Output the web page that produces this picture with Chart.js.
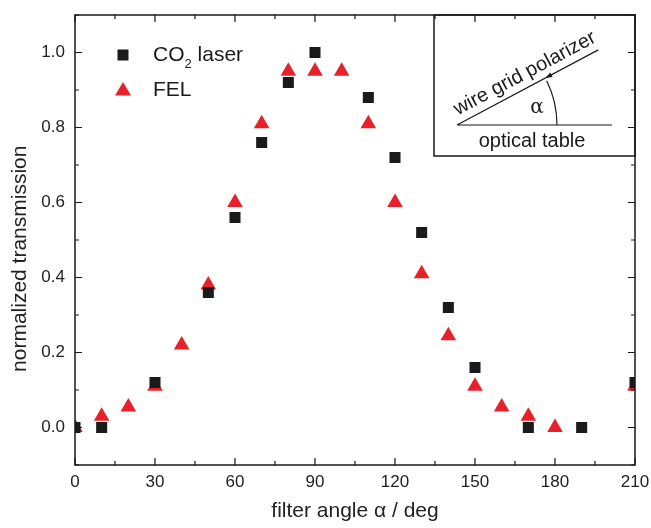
<!DOCTYPE html>
<html>
<head>
<meta charset="utf-8">
<script src="https://cdn.jsdelivr.net/npm/chart.js@4/dist/chart.umd.min.js"></script>
<style>
  html, body { margin: 0; padding: 0; background: #fff; }
  #wrap { width: 651px; height: 528px; }
</style>
</head>
<body>
<div id="wrap"><canvas id="chart" width="651" height="528"></canvas></div>
<script>
// angles (deg) and normalized transmission
const co2Angles = [0, 10, 30, 50, 60, 70, 80, 90, 110, 120, 130, 140, 150, 170, 190, 210];
const co2Values = [0, 0, 0.12, 0.36, 0.56, 0.76, 0.92, 1.0, 0.88, 0.72, 0.52, 0.32, 0.16, 0, 0, 0.12];

const felAngles = [0, 10, 20, 30, 40, 50, 60, 70, 80, 90, 100, 110, 120, 130, 140, 150, 160, 170, 180, 210];
const felValues = [0, 0.03, 0.055, 0.11, 0.22, 0.38, 0.60, 0.81, 0.95, 0.95, 0.95, 0.81, 0.60, 0.41, 0.245, 0.11, 0.055, 0.03, 0, 0.11];

const xTicks = [0, 30, 60, 90, 120, 150, 180, 210];
const yTicks = [0, 0.2, 0.4, 0.6, 0.8, 1.0];
const xMinorTicks = [15, 45, 75, 105, 135, 165, 195];
const yMinorTicks = [-0.1, 0.1, 0.3, 0.5, 0.7, 0.9, 1.1];

const FONT = "'Liberation Sans', Arial, Helvetica, sans-serif";
const RED = '#e8202a';
const BLACK = '#1a1a1a';

const toPoints = (xs, ys) => xs.map((x, i) => ({ x: x, y: ys[i] }));

// frame, inward ticks on all four sides, y title, legend and the inset sketch
const framePlugin = {
    id: 'frame',
    afterDraw(chart) {
        const ctx = chart.ctx;
        const a = chart.chartArea;
        const xs = chart.scales.x, ys = chart.scales.y;
        ctx.save();
        ctx.strokeStyle = BLACK;
        ctx.lineWidth = 1.5;
        ctx.strokeRect(a.left, a.top, a.right - a.left, a.bottom - a.top);

        ctx.lineWidth = 1.2;
        ctx.beginPath();
        const xt = (v, len) => {
            const px = xs.getPixelForValue(v);
            ctx.moveTo(px, a.bottom); ctx.lineTo(px, a.bottom - len);
            ctx.moveTo(px, a.top); ctx.lineTo(px, a.top + len);
        };
        const yt = (v, len) => {
            const py = ys.getPixelForValue(v);
            ctx.moveTo(a.left, py); ctx.lineTo(a.left + len, py);
            ctx.moveTo(a.right, py); ctx.lineTo(a.right - len, py);
        };
        xTicks.forEach(v => xt(v, 7));
        xMinorTicks.forEach(v => xt(v, 4));
        yTicks.forEach(v => yt(v, 7));
        yMinorTicks.forEach(v => yt(v, 4));
        ctx.stroke();

        // y axis title (sits a bit below the centre in the original)
        ctx.save();
        ctx.translate(20, ys.getPixelForValue(0.45));
        ctx.rotate(-Math.PI / 2);
        ctx.fillStyle = '#222';
        ctx.font = '21px ' + FONT;
        ctx.textAlign = 'center';
        ctx.textBaseline = 'middle';
        ctx.fillText('normalized transmission', 0, 0);
        ctx.restore();

        // legend
        const lx = a.left + 48, ly1 = a.top + 40, ly2 = a.top + 75;
        ctx.fillStyle = BLACK;
        ctx.fillRect(lx - 5.5, ly1 - 5.5, 11, 11);
        ctx.fillStyle = RED;
        ctx.beginPath();
        ctx.moveTo(lx, ly2 - 8);
        ctx.lineTo(lx + 8, ly2 + 5.5);
        ctx.lineTo(lx - 8, ly2 + 5.5);
        ctx.closePath();
        ctx.fill();

        ctx.fillStyle = BLACK;
        ctx.textBaseline = 'middle';
        ctx.textAlign = 'left';
        ctx.font = '21px ' + FONT;
        let tx = lx + 30;
        ctx.fillText('CO', tx, ly1);
        tx += ctx.measureText('CO').width;
        ctx.font = '13px ' + FONT;
        ctx.fillText('2', tx, ly1 + 9);
        tx += ctx.measureText('2').width;
        ctx.font = '21px ' + FONT;
        ctx.fillText(' laser', tx, ly1);
        ctx.fillText('FEL', lx + 30, ly2);

        // inset
        const bx = a.right - 201, by = a.top, bw = 201, bh = 141;
        ctx.lineWidth = 1.5;
        ctx.strokeRect(bx, by, bw, bh);
        const ox = bx + 23, oy = by + 110;
        const ang = 28 * Math.PI / 180;
        ctx.lineWidth = 1.2;
        ctx.beginPath();
        ctx.moveTo(ox, oy); ctx.lineTo(bx + 178, oy);
        ctx.moveTo(ox, oy); ctx.lineTo(ox + 160 * Math.cos(ang), oy - 160 * Math.sin(ang));
        ctx.stroke();
        // arc with arrow
        const r = 100;
        ctx.beginPath();
        ctx.arc(ox, oy, r, 0, -ang + 0.03, true);
        ctx.stroke();
        const ex = ox + r * Math.cos(ang), ey = oy - r * Math.sin(ang);
        ctx.save();
        ctx.translate(ex, ey);
        ctx.rotate(-ang - Math.PI / 2);
        ctx.beginPath();
        ctx.moveTo(0, 0);
        ctx.lineTo(-2.5, 7);
        ctx.lineTo(2.5, 7);
        ctx.closePath();
        ctx.fill();
        ctx.restore();

        ctx.font = '20px ' + FONT;
        ctx.textAlign = 'center';
        ctx.fillText('optical table', bx + 98, oy + 16);
        ctx.font = '20px "DejaVu Serif", serif';
        ctx.fillText('\u03b1', bx + 103, oy - 17);

        ctx.save();
        ctx.translate(ox + 84 * Math.cos(ang) - 8 * Math.sin(ang), oy - 84 * Math.sin(ang) - 8 * Math.cos(ang));
        ctx.rotate(-ang);
        ctx.font = '20px ' + FONT;
        ctx.textBaseline = 'alphabetic';
        ctx.fillText('wire grid polarizer', 0, 0);
        ctx.restore();

        ctx.restore();
    }
};

new Chart(document.getElementById('chart'), {
    type: 'scatter',
    data: {
        datasets: [
            {
                label: 'CO2 laser',
                data: toPoints(co2Angles, co2Values),
                pointStyle: 'rect',
                pointRadius: 7.8,
                pointHoverRadius: 7.8,
                backgroundColor: BLACK,
                borderWidth: 0
            },
            {
                label: 'FEL',
                data: toPoints(felAngles, felValues),
                pointStyle: 'triangle',
                pointRadius: 9,
                pointHoverRadius: 9,
                backgroundColor: RED,
                borderWidth: 0
            }
        ]
    },
    options: {
        responsive: false,
        animation: false,
        layout: { padding: { left: 0, top: 15, right: 16, bottom: 0 } },
        plugins: {
            legend: { display: false },
            tooltip: { enabled: false }
        },
        scales: {
            x: {
                type: 'linear',
                min: 0,
                max: 210,
                afterBuildTicks: s => { s.ticks = xTicks.map(v => ({ value: v })); },
                afterFit: s => { s.height = 63; s.paddingLeft = 0; s.paddingRight = 0; },
                grid: { display: false, drawTicks: false },
                border: { display: false },
                ticks: {
                    padding: 7,
                    color: '#222',
                    font: { family: FONT, size: 17 }
                },
                title: {
                    display: true,
                    text: 'filter angle \u03b1 / deg',
                    color: '#222',
                    font: { family: FONT, size: 21 },
                    padding: { top: 0, bottom: 4 }
                }
            },
            y: {
                type: 'linear',
                min: -0.1,
                max: 1.1,
                afterBuildTicks: s => { s.ticks = yTicks.map(v => ({ value: v })); },
                afterFit: s => { s.width = 75; s.paddingTop = 0; s.paddingBottom = 0; },
                grid: { display: false, drawTicks: false },
                border: { display: false },
                ticks: {
                    padding: 10,
                    color: '#222',
                    font: { family: FONT, size: 17 },
                    callback: v => v.toFixed(1)
                },
                title: { display: false }
            }
        }
    },
    plugins: [framePlugin]
});
</script>
</body>
</html>
